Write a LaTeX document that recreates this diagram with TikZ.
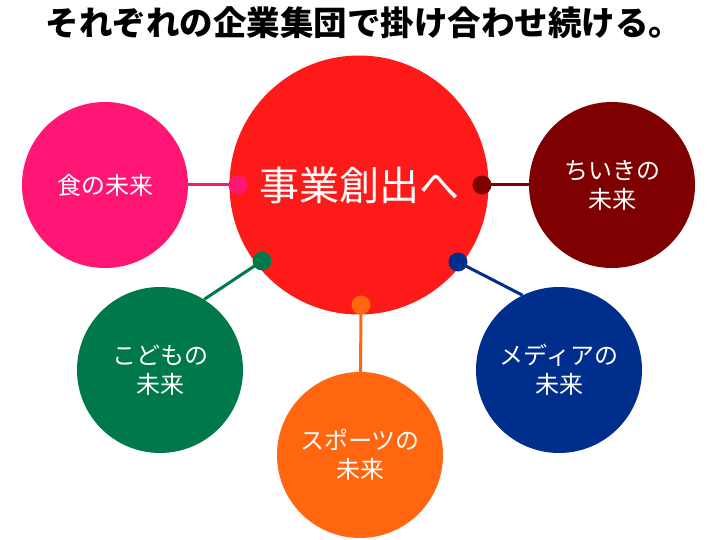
\documentclass[tikz,border=0pt]{standalone}
\usepackage{fontspec}
\newfontfamily\jpfont{Noto Sans CJK JP}
\usetikzlibrary{positioning}
\definecolor{hubred}{HTML}{FF1A1A}
\definecolor{foodpink}{HTML}{FF1675}
\definecolor{areared}{HTML}{7F0000}
\definecolor{kidsgreen}{HTML}{00794A}
\definecolor{mediablue}{HTML}{002E8C}
\definecolor{sportorange}{HTML}{FF660F}
\tikzset{future/.style={circle,inner sep=0pt,minimum size=166pt,text=white,align=center,
  font=\jpfont\fontsize{24}{29}\selectfont},
  joint/.style={circle,inner sep=0pt,minimum size=19pt},
  link/.style={line width=3pt}}
\begin{document}
\begin{tikzpicture}[x=1pt,y=-1pt]
\useasboundingbox (0,0) rectangle (720,540);
\node[font=\jpfont\bfseries\fontsize{33.5}{33.5}\selectfont] (title) at (364,23) {それぞれの企業集団で掛け合わせ続ける。};
\node[circle,fill=hubred,minimum size=259pt,inner sep=0pt,text=white,
  font=\jpfont\fontsize{40}{40}\selectfont] (hub) at (359,185) {事業創出へ};
% outer circles
\node[future,fill=foodpink] (food) at (105,185) {食の未来};
\node[future,fill=areared] (area) at (612,185) {ちいきの\\未来};
\node[future,fill=kidsgreen] (kids) at (160,370) {こどもの\\未来};
\node[future,fill=mediablue] (media) at (559,370) {メディアの\\未来};
\node[future,fill=sportorange] (sport) at (360,455) {スポーツの\\未来};
% joints on the hub
\node[joint,fill=foodpink] (jfood) at (238,185) {};
\node[joint,fill=areared] (jarea) at (482,185) {};
\node[joint,fill=kidsgreen] (jkids) at (262,261) {};
\node[joint,fill=mediablue] (jmedia) at (458,262) {};
\node[joint,fill=sportorange] (jsport) at (361,305) {};
\draw[link,foodpink] (jfood.center) -- (food);
\draw[link,areared] (jarea.center) -- (area);
\draw[link,kidsgreen] (jkids.center) -- (kids.58);
\draw[link,mediablue] (jmedia.center) -- (media.116);
\draw[link,sportorange] (jsport.center) -- (sport);
\end{tikzpicture}
\end{document}
